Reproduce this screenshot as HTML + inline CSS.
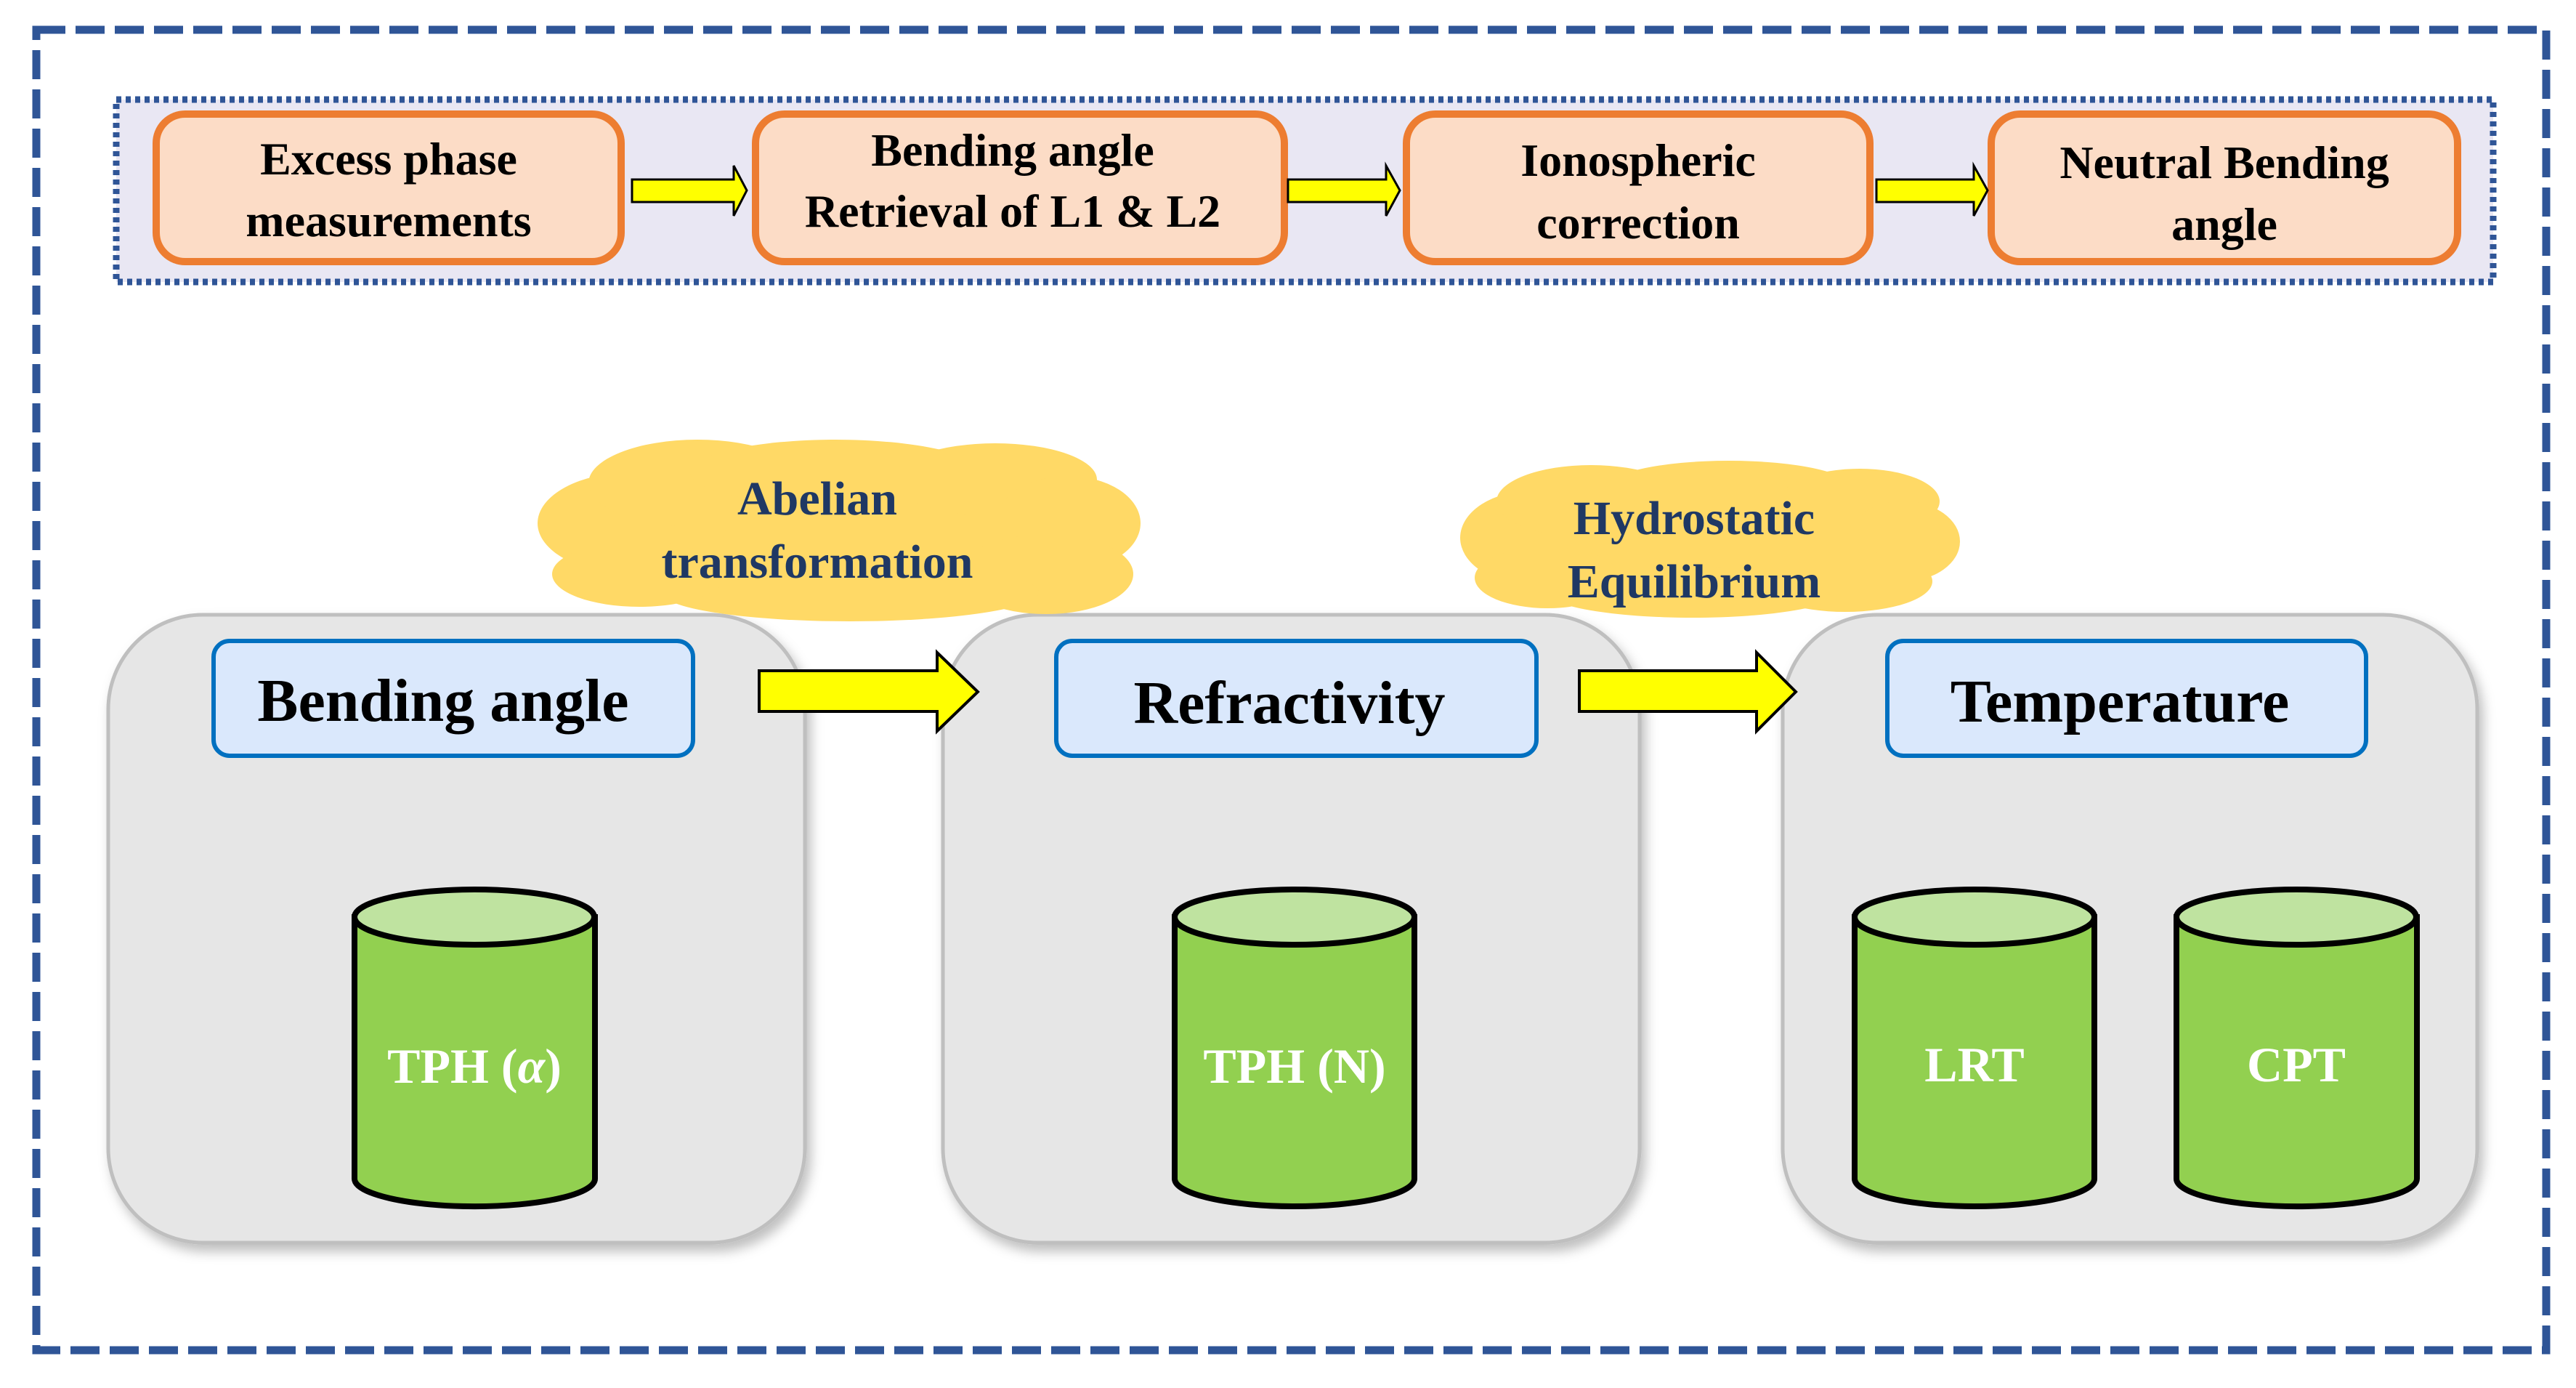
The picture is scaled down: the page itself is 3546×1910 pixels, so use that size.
<!DOCTYPE html>
<html><head><meta charset="utf-8"><style>html,body{margin:0;padding:0;background:#fff}svg{display:block}</style></head>
<body>
<svg width="3546" height="1910" viewBox="0 0 3546 1910" xmlns="http://www.w3.org/2000/svg" font-family="'Liberation Serif', serif" font-weight="bold">
<defs>
<filter id="sh" x="-10%" y="-10%" width="130%" height="130%"><feDropShadow dx="6" dy="10" stdDeviation="8" flood-color="#000" flood-opacity="0.25"/></filter>
</defs>
<rect x="0" y="0" width="3546" height="1910" fill="#fff"/>
<rect x="50" y="41" width="3455" height="1817" fill="none" stroke="#2f5597" stroke-width="11" stroke-dasharray="40 14"/>
<rect x="160" y="137" width="3272" height="251" fill="#e9e7f3" stroke="#2f5597" stroke-width="9" stroke-dasharray="7 6"/>
<g fill="#fcdcc6" stroke="#ed7d31" stroke-width="10">
<rect x="215" y="157" width="640" height="203" rx="40"/>
<rect x="1040" y="157" width="728" height="203" rx="40"/>
<rect x="1936" y="157" width="638" height="203" rx="40"/>
<rect x="2741" y="157" width="642" height="203" rx="40"/>
</g>
<g font-size="64" text-anchor="middle" fill="#000">
<text x="535" y="240">Excess phase</text>
<text x="535" y="325">measurements</text>
<text x="1394" y="228">Bending angle</text>
<text x="1394" y="312">Retrieval of L1 &amp; L2</text>
<text x="2255" y="242">Ionospheric</text>
<text x="2255" y="328">correction</text>
<text x="3062" y="245">Neutral Bending</text>
<text x="3062" y="330">angle</text>
</g>
<g fill="#ffff00" stroke="#000" stroke-width="3">
<polygon points="870,247 1010,247 1010,228 1028,262 1010,297 1010,278 870,278"/>
<polygon points="1773,247 1908,247 1908,228 1927,262 1908,297 1908,278 1773,278"/>
<polygon points="2583,247 2717,247 2717,228 2736,262 2717,297 2717,278 2583,278"/>
</g>
<g fill="#e6e6e6" stroke="#bfbfbf" stroke-width="5" filter="url(#sh)">
<rect x="149" y="846" width="959" height="864" rx="130"/>
<rect x="1298" y="846" width="959" height="864" rx="130"/>
<rect x="2454" y="846" width="956" height="864" rx="130"/>
</g>
<g fill="#dae8fc" stroke="#0070c0" stroke-width="6">
<rect x="294" y="882" width="660" height="158" rx="22"/>
<rect x="1454" y="882" width="661" height="158" rx="22"/>
<rect x="2598" y="882" width="659" height="158" rx="22"/>
</g>
<g font-size="84" text-anchor="middle" fill="#000">
<text x="610" y="992">Bending angle</text>
<text x="1775" y="995">Refractivity</text>
<text x="2918" y="993">Temperature</text>
</g>
<g fill="#ffff00" stroke="#000" stroke-width="4">
<polygon points="1045,923 1290,923 1290,898 1346,952 1290,1006 1290,979 1045,979"/>
<polygon points="2174,923 2418,923 2418,898 2472,952 2418,1006 2418,979 2174,979"/>
</g>
<g fill="#ffd966">
<ellipse cx="1153" cy="733" rx="330" ry="95"/>
<ellipse cx="870" cy="720" rx="130" ry="70"/>
<ellipse cx="960" cy="665" rx="150" ry="60"/>
<ellipse cx="1150" cy="650" rx="200" ry="45"/>
<ellipse cx="1370" cy="660" rx="140" ry="50"/>
<ellipse cx="1470" cy="720" rx="100" ry="65"/>
<ellipse cx="1440" cy="790" rx="120" ry="55"/>
<ellipse cx="1170" cy="815" rx="260" ry="40"/>
<ellipse cx="880" cy="790" rx="120" ry="45"/>
<ellipse cx="2352" cy="745" rx="280" ry="85"/>
<ellipse cx="2110" cy="740" rx="100" ry="65"/>
<ellipse cx="2190" cy="690" rx="130" ry="50"/>
<ellipse cx="2380" cy="672" rx="170" ry="38"/>
<ellipse cx="2560" cy="690" rx="110" ry="45"/>
<ellipse cx="2620" cy="745" rx="78" ry="55"/>
<ellipse cx="2540" cy="800" rx="120" ry="42"/>
<ellipse cx="2330" cy="815" rx="200" ry="35"/>
<ellipse cx="2130" cy="795" rx="100" ry="42"/>
</g>
<g font-size="66" text-anchor="middle" fill="#1f3864">
<text x="1125" y="708">Abelian</text>
<text x="1125" y="795">transformation</text>
<text x="2332" y="735">Hydrostatic</text>
<text x="2332" y="822">Equilibrium</text>
</g>
<g stroke="#000" stroke-width="8">
<path d="M488,1262 L488,1622 A165,38 0 0 0 819,1622 L819,1262 Z" fill="#92d050"/>
<ellipse cx="653" cy="1262" rx="165" ry="38" fill="#bfe3a0"/>
<path d="M1617,1262 L1617,1622 A165,38 0 0 0 1947,1622 L1947,1262 Z" fill="#92d050"/>
<ellipse cx="1782" cy="1262" rx="165" ry="38" fill="#bfe3a0"/>
<path d="M2553,1262 L2553,1622 A165,38 0 0 0 2883,1622 L2883,1262 Z" fill="#92d050"/>
<ellipse cx="2718" cy="1262" rx="165" ry="38" fill="#bfe3a0"/>
<path d="M2996,1262 L2996,1622 A165,38 0 0 0 3327,1622 L3327,1262 Z" fill="#92d050"/>
<ellipse cx="3161" cy="1262" rx="165" ry="38" fill="#bfe3a0"/>
</g>
<g font-size="68" text-anchor="middle" fill="#fff">
<text x="653" y="1490">TPH (<tspan font-style="italic">α</tspan>)</text>
<text x="1782" y="1490">TPH (N)</text>
<text x="2718" y="1488">LRT</text>
<text x="3161" y="1488">CPT</text>
</g>
</svg>
</body></html>
